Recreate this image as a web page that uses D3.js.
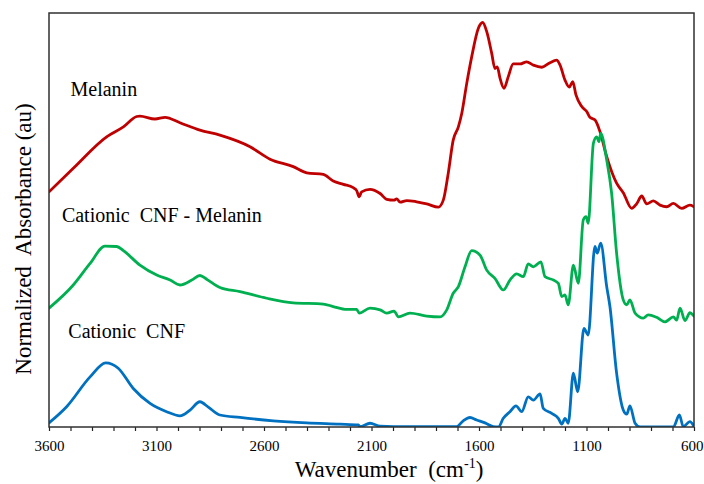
<!DOCTYPE html>
<html>
<head>
<meta charset="utf-8">
<script src="https://cdn.jsdelivr.net/npm/d3@7/dist/d3.min.js"></script>
<style>
  html, body { margin: 0; padding: 0; background: #fff; }
  svg { display: block; }
  svg text { font-family: "Liberation Serif", "Times New Roman", Times, "DejaVu Serif", serif !important; fill: #000; }
</style>
</head>
<body>
<svg id="chart" width="704" height="484"></svg>
<script>
// FTIR spectra: [wavenumber (cm-1), normalized absorbance incl. vertical offset]
const melanin = [
  [3600,0.568],[3487,0.625],[3332,0.701],[3254,0.725],[3192,0.750],[3177,0.751],
  [3107,0.744],[3060,0.748],[2991,0.735],[2898,0.717],[2805,0.705],[2665,0.677],
  [2572,0.647],[2464,0.629],[2401,0.614],[2324,0.610],[2278,0.594],[2231,0.586],
  [2185,0.578],[2169,0.571],[2157,0.556],[2146,0.568],[2107,0.574],[2060,0.564],
  [2029,0.550],[1995,0.548],[1983,0.551],[1967,0.543],[1936,0.547],[1890,0.544],
  [1843,0.539],[1789,0.531],[1766,0.548],[1743,0.613],[1720,0.693],[1696,0.725],
  [1680,0.758],[1657,0.830],[1634,0.894],[1603,0.963],[1583,0.977],[1564,0.955],
  [1541,0.903],[1526,0.866],[1515,0.870],[1502,0.842],[1484,0.818],[1464,0.846],
  [1441,0.877],[1409,0.877],[1378,0.882],[1347,0.874],[1308,0.869],[1270,0.880],
  [1239,0.886],[1223,0.874],[1200,0.838],[1180,0.821],[1164,0.834],[1149,0.802],
  [1122,0.774],[1099,0.762],[1084,0.748],[1061,0.742],[1037,0.713],[1006,0.653],
  [960,0.589],[929,0.566],[890,0.528],[867,0.539],[843,0.558],[820,0.539],
  [789,0.546],[758,0.536],[727,0.532],[696,0.540],[657,0.528],[619,0.536],[600,0.532]
];

const cnfMelanin = [
  [3600,0.287],[3487,0.343],[3409,0.395],[3340,0.437],[3285,0.436],[3254,0.426],
  [3177,0.391],[3099,0.367],[3037,0.355],[2991,0.343],[2936,0.355],[2898,0.366],
  [2867,0.357],[2805,0.337],[2712,0.327],[2587,0.311],[2464,0.300],[2324,0.297],
  [2278,0.291],[2215,0.284],[2169,0.284],[2157,0.275],[2107,0.287],[2060,0.283],
  [2029,0.275],[1995,0.280],[1975,0.266],[1921,0.275],[1843,0.268],[1781,0.266],
  [1750,0.283],[1720,0.323],[1696,0.339],[1665,0.387],[1634,0.426],[1595,0.415],
  [1564,0.379],[1526,0.359],[1487,0.331],[1456,0.355],[1425,0.370],[1394,0.363],
  [1371,0.394],[1347,0.387],[1312,0.399],[1293,0.363],[1254,0.355],[1231,0.347],
  [1215,0.315],[1200,0.319],[1185,0.295],[1161,0.391],[1138,0.347],[1115,0.500],
  [1102,0.508],[1092,0.492],[1068,0.685],[1053,0.701],[1042,0.689],[1034,0.709],
  [1006,0.645],[983,0.564],[960,0.420],[929,0.307],[913,0.295],[898,0.307],
  [874,0.275],[836,0.263],[813,0.271],[774,0.265],[735,0.254],[696,0.266],
  [681,0.258],[665,0.287],[642,0.257],[619,0.276],[600,0.268]
];

const cnf = [
  [3600,0.010],[3518,0.049],[3409,0.121],[3336,0.155],[3278,0.142],[3208,0.093],
  [3130,0.057],[3053,0.037],[2991,0.027],[2944,0.041],[2898,0.061],[2859,0.048],
  [2805,0.029],[2712,0.023],[2557,0.015],[2401,0.010],[2247,0.007],[2161,0.005],
  [2154,0.001],[2107,0.009],[2060,0.002],[1999,0.001],[1843,0.001],[1704,0.001],
  [1673,0.015],[1642,0.023],[1611,0.017],[1572,0.010],[1534,0.001],[1510,0.000],
  [1487,0.021],[1456,0.037],[1428,0.051],[1401,0.037],[1371,0.073],[1347,0.065],
  [1316,0.080],[1301,0.045],[1262,0.033],[1231,0.021],[1215,0.007],[1200,0.021],
  [1185,0.009],[1161,0.130],[1141,0.085],[1112,0.238],[1092,0.222],[1061,0.436],
  [1050,0.420],[1034,0.444],[1006,0.339],[991,0.291],[960,0.130],[929,0.041],
  [913,0.031],[898,0.051],[874,0.009],[851,0.000],[696,0.000],[668,0.029],
  [650,0.001],[619,0.013],[600,0.001]
];

const seriesNames = ["Melanin", "Cationic  CNF - Melanin", "Cationic  CNF"];
const seriesColors = ["#C00000", "#00B050", "#0070C0"];
const labelAt = [[3500, 0.80], [3540, 0.496], [3510, 0.215]];   // [wavenumber, absorbance] of each name
const tickLabels = [3600, 3100, 2600, 2100, 1600, 1100, 600];

const FONT = "'Liberation Serif', 'Times New Roman', Times, 'DejaVu Serif', serif";

const svg = d3.select("#chart");
const m = { left: 49, right: 694, top: 13, bottom: 427 };

const x = d3.scaleLinear().domain([3600, 600]).range([m.left, m.right]);
const y = d3.scaleLinear().domain([0, 1]).range([m.bottom, m.top]);

svg.append("defs").append("clipPath").attr("id", "plot")
  .append("rect").attr("x", m.left).attr("y", m.top)
  .attr("width", m.right - m.left).attr("height", m.bottom - m.top);

// spectra
const line = d3.line().x(d => x(d[0])).y(d => y(d[1])).curve(d3.curveMonotoneX);
const g = svg.append("g").attr("clip-path", "url(#plot)");
[melanin, cnfMelanin, cnf].forEach((s, i) => {
  g.append("path").datum(s).attr("d", line)
    .attr("fill", "none").attr("stroke", seriesColors[i])
    .attr("stroke-width", 2.8).attr("stroke-linejoin", "round").attr("stroke-linecap", "round");
});

// x axis ticks every 100 cm-1, labels every 500
const ticks = d3.range(3600, 599, -100);
const xAxis = d3.axisBottom(x).tickValues(ticks).tickSize(4).tickSizeOuter(0)
  .tickFormat(d => tickLabels.includes(d) ? d : "");
const ax = svg.append("g").attr("transform", `translate(0,${m.bottom})`).call(xAxis)
  .attr("font-family", FONT);
ax.select(".domain").remove();
ax.selectAll(".tick line").attr("stroke", "#222").attr("stroke-width", 1.2);
ax.selectAll(".tick text").attr("font-size", 15).attr("dy", "1.15em").attr("fill", "#000")
  .filter(d => d === 600).attr("text-anchor", "end").attr("dx", 9);

// frame
svg.append("rect").attr("x", m.left).attr("y", m.top)
  .attr("width", m.right - m.left).attr("height", m.bottom - m.top)
  .attr("fill", "none").attr("stroke", "#303030").attr("stroke-width", 1.5);

// series names
seriesNames.forEach((n, i) => {
  svg.append("text").attr("x", x(labelAt[i][0])).attr("y", y(labelAt[i][1]))
    .attr("font-family", FONT).attr("font-size", 20).style("white-space", "pre").text(n);
});

// axis titles
const xt = svg.append("text").attr("x", 389).attr("y", 477).attr("font-family", FONT)
  .attr("text-anchor", "middle").attr("font-size", 23).style("white-space", "pre");
xt.append("tspan").text("Wavenumber  (cm");
xt.append("tspan").attr("font-size", 14).attr("dy", -9).text("-1");
xt.append("tspan").attr("dy", 9).text(")");

svg.append("text").attr("transform", "translate(31,239) rotate(-90)").attr("font-family", FONT)
  .attr("text-anchor", "middle").attr("font-size", 23).style("white-space", "pre")
  .text("Normalized  Absorbance (au)");
</script>
</body>
</html>
